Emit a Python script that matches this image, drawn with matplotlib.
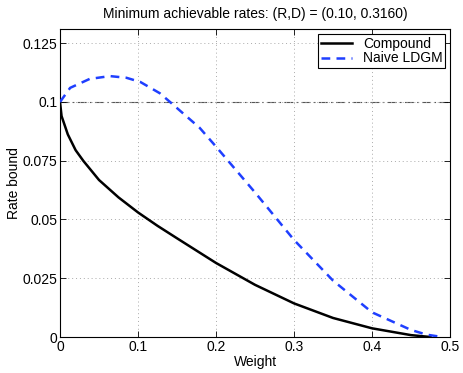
import matplotlib
matplotlib.use('Agg')
import matplotlib.pyplot as plt

# Compound curve
w_comp = [0, 0.002, 0.01, 0.02, 0.03, 0.05, 0.075, 0.1, 0.125, 0.15, 0.2, 0.25, 0.3, 0.35, 0.4, 0.45, 0.475]
r_comp = [0.1, 0.094, 0.0862, 0.0795, 0.0749, 0.0668, 0.0594, 0.0530, 0.0473, 0.0420, 0.0315,
          0.0222, 0.0143, 0.0081, 0.0037, 0.0008, 0.0]

# Naive LDGM curve
w_naive = [0, 0.013, 0.038, 0.064, 0.085, 0.103, 0.128, 0.141, 0.179, 0.2, 0.25, 0.3, 0.335,
           0.35, 0.4, 0.45, 0.47, 0.49]
r_naive = [0.1, 0.106, 0.1098, 0.111, 0.1103, 0.1085, 0.1037, 0.100, 0.089, 0.081, 0.0615,
           0.0413, 0.0292, 0.024, 0.0105, 0.003, 0.001, 0.0]

xticks = [0, 0.1, 0.2, 0.3, 0.4, 0.5]
yticks = [0, 0.025, 0.05, 0.075, 0.1, 0.125]
ytick_labels = ['0', '0.025', '0.05', '0.075', '0.1', '0.125']
target_rate = 0.1

plt.rcParams['font.family'] = ['Liberation Sans', 'DejaVu Sans']

fig = plt.figure(figsize=(4.63, 3.73), dpi=100)
ax = fig.add_axes([0.1296, 0.0965, 0.8424, 0.8255])

ax.axhline(target_rate, color='#555555', lw=0.8, ls=(0, (8, 3, 1.5, 3)), zorder=1)
ax.plot(w_comp, r_comp, color='black', lw=1.8, label='Compound', zorder=3)
ax.plot(w_naive, r_naive, color='#1f3fff', lw=1.8, ls=(0, (3.5, 2.5)), label='Naive LDGM', zorder=3)

ax.set_xlim(0, 0.5)
ax.set_ylim(0, 0.131)
ax.set_xticks(xticks)
ax.set_xticklabels([('%g' % t) for t in xticks])
ax.set_yticks(yticks)
ax.set_yticklabels(ytick_labels)
ax.grid(True, color='#aaaaaa', ls=(0, (1, 3)), lw=0.7)
ax.tick_params(direction='in', top=True, right=True, length=4, width=0.6, labelsize=10, pad=2)
for s in ax.spines.values():
    s.set_linewidth(0.8)

ax.set_xlabel('Weight', fontsize=10, labelpad=1)
ax.set_ylabel('Rate bound', fontsize=10, labelpad=1)
ax.set_title('Minimum achievable rates: (R,D) = (0.10, 0.3160)', fontsize=10, pad=8)

leg = ax.legend(loc='upper right', fontsize=10, fancybox=False, edgecolor='black',
                handlelength=2.2, borderpad=0.2, labelspacing=0.05, borderaxespad=0.35,
                framealpha=1)
leg.get_frame().set_linewidth(0.8)

plt.savefig('out.png', dpi=100)
